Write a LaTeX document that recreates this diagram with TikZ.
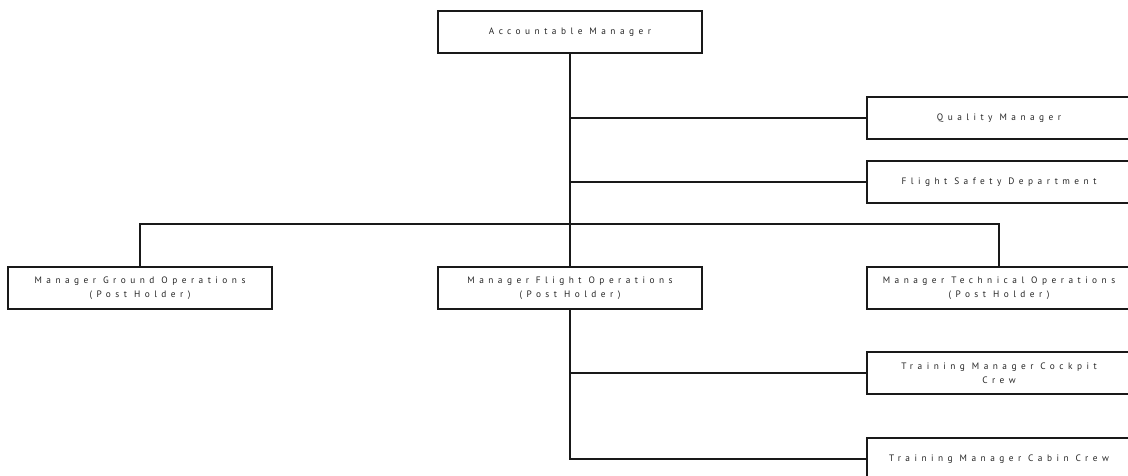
\documentclass[tikz,border=0pt]{standalone}
\usepackage{fontspec}
\newfontfamily\ocfont[LetterSpace=48]{PT Sans}
\usetikzlibrary{positioning,calc}
\tikzset{
  ocbox/.style={
    rectangle, draw=black!90, fill=white, line width=0.8pt,
    minimum width=198pt, minimum height=31.5pt, inner sep=1pt,
    align=center, text=black!85, font=\ocfont\fontsize{7}{10.5}\selectfont
  },
  ocline/.style={draw=black!90,line width=0.8pt}
}

\begin{document}
\begin{tikzpicture}[x=0.75pt,y=-0.75pt]
  \useasboundingbox (0,0) rectangle (1128,475);
  \clip (0,0) rectangle (1128,475);
  % top of the chart
  \node[ocbox] (acm) at (570,32) {Accountable Manager};
  \node[ocbox] (qm) at (999,118) {Quality Manager};
  \node[ocbox] (fsd) at (999,182) {Flight Safety Department};

  % post holders
  \node[ocbox] (mgo) at (140,288) {Manager Ground Operations\\(Post Holder)};
  \node[ocbox] (mfo) at (570,288) {Manager Flight Operations\\(Post Holder)};
  \node[ocbox] (mto) at (999,288) {Manager Technical Operations\\(Post Holder)};
  \coordinate (bus) at (570,224);

  % training
  \node[ocbox] (tmc) at (999,373) {Training Manager Cockpit\\Crew};
  \node[ocbox] (tcc) at (999,459) {Training Manager Cabin Crew};

  \draw[ocline] (acm.south) -- (mfo.north);
  \draw[ocline] (acm.south |- qm.west) -- (qm.west);
  \draw[ocline] (acm.south |- fsd.west) -- (fsd.west);
  \draw[ocline] (mgo.north) |- (bus) -| (mto.north);
  \draw[ocline] (mfo.south) |- (tmc.west);
  \draw[ocline] (mfo.south) |- (tcc.west);
\end{tikzpicture}
\end{document}
